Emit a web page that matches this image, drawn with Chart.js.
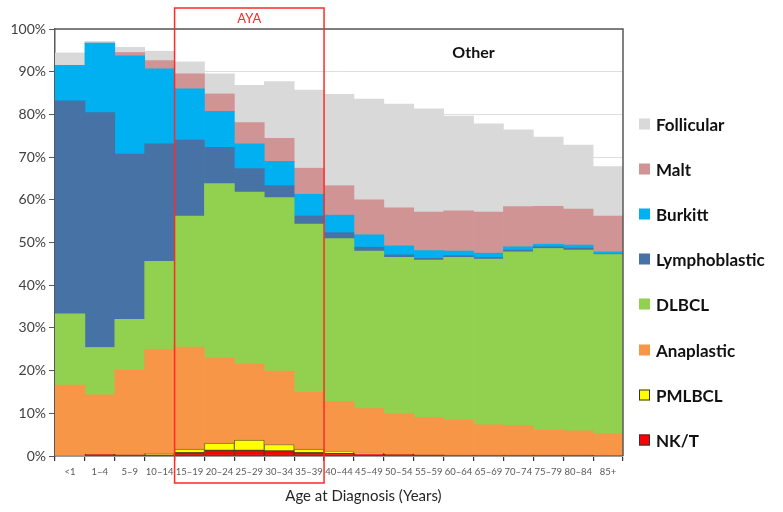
<!DOCTYPE html>
<html>
<head>
<meta charset="utf-8">
<script src="https://cdn.jsdelivr.net/npm/chart.js@4.4.1/dist/chart.umd.min.js"></script>
<style>
  html, body { margin: 0; padding: 0; background: #fff; }
  #wrap { position: relative; width: 783px; height: 512px; }
  #legend { position: absolute; left: 639px; top: 0; font-family: Lato, 'Open Sans', sans-serif; }
  .item { position: absolute; left: 0; display: flex; align-items: center; white-space: nowrap;
          font-weight: bold; font-size: 17px; color: #111; transform: translateY(-50%); }
  .swatch { width: 11px; height: 11px; margin-right: 6px; box-sizing: border-box; }
</style>
</head>
<body>
<div id="wrap">
  <canvas id="chart" width="783" height="512"></canvas>
  <div id="legend"></div>
</div>
<script>
// age bands along the x axis
const ageGroups = ['<1', '1–4', '5–9', '10–14', '15–19', '20–24', '25–29', '30–34', '35–39',
  '40–44', '45–49', '50–54', '55–59', '60–64', '65–69', '70–74', '75–79', '80–84', '85+'];

// share of cases (%) per subtype, stacked bottom to top
const nkt          = [0, 0.4, 0.3, 0.3, 0.8, 1.3, 1.3, 1.2, 0.8, 0.6, 0.5, 0.4, 0.3, 0.2, 0.2, 0.2, 0.2, 0.2, 0.1];
const pmlbcl       = [0, 0, 0, 0.3, 0.8, 1.7, 2.4, 1.5, 0.8, 0.4, 0.2, 0.1, 0, 0, 0, 0, 0, 0, 0];
const anaplastic   = [16.6, 13.9, 19.8, 24.4, 23.9, 20.0, 17.8, 17.2, 13.5, 11.8, 10.4, 9.4, 8.7, 8.2, 7.1, 6.9, 6.0, 5.7, 5.1];
const dlbcl        = [16.7, 11.1, 11.9, 20.6, 30.7, 40.8, 40.3, 40.6, 39.2, 38.1, 36.9, 36.6, 36.9, 38.1, 38.8, 40.7, 42.4, 42.3, 42.0];
const lymphoblastic= [49.9, 55.0, 38.7, 27.5, 17.8, 8.5, 5.5, 2.8, 1.9, 1.4, 0.9, 0.6, 0.4, 0.4, 0.4, 0.4, 0.4, 0.5, 0.1];
const burkitt      = [8.3, 16.3, 23.0, 17.6, 12.0, 8.4, 5.8, 5.7, 5.1, 4.1, 2.9, 2.1, 1.8, 1.1, 1.0, 0.8, 0.6, 0.7, 0.5];
const malt         = [0, 0, 0.8, 1.9, 3.5, 4.1, 5.0, 5.4, 6.1, 6.9, 8.2, 8.9, 9.0, 9.4, 9.6, 9.4, 8.9, 8.4, 8.4];
const follicular   = [2.9, 0.4, 1.2, 2.2, 2.8, 4.7, 8.7, 13.3, 18.3, 21.4, 23.6, 24.3, 24.2, 22.2, 20.7, 18.0, 16.2, 15.0, 11.6];

const yTicks = [0, 10, 20, 30, 40, 50, 60, 70, 80, 90, 100];

const FONT = "Lato, 'Open Sans', sans-serif";
const AXIS = '#595959';

function layer(label, data, color, outline) {
  return {
    label, data,
    backgroundColor: color,
    borderColor: outline || color,
    borderWidth: outline ? 1 : 0,
    borderSkipped: false,
    categoryPercentage: 1.0,
    barPercentage: 1.0
  };
}

const datasets = [
  layer('NK/T', nkt, '#ff0000', '#5a3a1a'),
  layer('PMLBCL', pmlbcl, '#ffff00', '#7a6a20'),
  layer('Anaplastic', anaplastic, '#f79646'),
  layer('DLBCL', dlbcl, '#92d050'),
  layer('Lymphoblastic', lymphoblastic, '#4672a6'),
  layer('Burkitt', burkitt, '#00b0f0'),
  layer('Malt', malt, '#d09494'),
  layer('Follicular', follicular, '#d9d9d9')
];

// AYA frame, "Other" label, plot border and the x title
const decorations = {
  id: 'decorations',
  afterDraw(chart) {
    const { ctx, chartArea: a, scales: { x } } = chart;
    ctx.save();
    ctx.strokeStyle = AXIS;
    ctx.lineWidth = 1.5;
    ctx.beginPath();
    ctx.moveTo(a.left, a.top);
    ctx.lineTo(a.right, a.top);
    ctx.lineTo(a.right, a.bottom);
    ctx.stroke();

    const l = x.getPixelForValue(3.5), r = x.getPixelForValue(8.5);
    ctx.strokeStyle = '#ff2a2a';
    ctx.lineWidth = 1.5;
    ctx.strokeRect(l, 8, r - l, 475);
    ctx.fillStyle = '#ff2a2a';
    ctx.font = '13px ' + FONT;
    ctx.textAlign = 'center';
    ctx.textBaseline = 'middle';
    ctx.fillText('AYA', (l + r) / 2, 19);

    ctx.fillStyle = '#111';
    ctx.font = 'bold 16px ' + FONT;
    ctx.fillText('Other', x.getPixelForValue(13.5), 53);

    ctx.fillStyle = '#262626';
    ctx.font = '15px ' + FONT;
    ctx.fillText('Age at Diagnosis (Years)', a.left + (a.right - a.left) * 0.543, 496);
    ctx.restore();
  }
};

new Chart(document.getElementById('chart'), {
  type: 'bar',
  data: { labels: ageGroups, datasets },
  options: {
    responsive: false,
    animation: false,
    layout: { padding: { top: 29, right: 160, left: 0, bottom: 0 } },
    plugins: { legend: { display: false }, tooltip: { enabled: false } },
    scales: {
      x: {
        stacked: true,
        grid: { display: true, drawOnChartArea: false, offset: true, tickLength: 5, tickColor: '#333', lineWidth: 1.2 },
        border: { color: AXIS, width: 1.5 },
        ticks: { autoSkip: false, maxRotation: 0, padding: 5, color: '#595959', font: { family: FONT, size: 9.5 } },
        afterFit(scale) { scale.height = 56; }
      },
      y: {
        stacked: true,
        min: 0, max: 100,
        afterBuildTicks(scale) { scale.ticks = yTicks.map(v => ({ value: v })); },
        grid: { color: '#dedede', lineWidth: 1, tickLength: 6, tickColor: AXIS },
        border: { color: AXIS, width: 1.5 },
        ticks: { padding: 3, color: '#404040', font: { family: FONT, size: 14 }, callback: v => v + '%' },
        afterFit(scale) { scale.width = 55; }
      }
    }
  },
  plugins: [decorations]
});

// legend, top entry is the top layer
const legend = document.getElementById('legend');
datasets.slice().reverse().forEach((ds, i) => {
  const row = document.createElement('div');
  row.className = 'item';
  row.style.top = (124 + i * 45.1) + 'px';
  const sw = document.createElement('span');
  sw.className = 'swatch';
  sw.style.background = ds.backgroundColor;
  if (ds.borderWidth) sw.style.border = '1px solid #333';
  row.appendChild(sw);
  row.appendChild(document.createTextNode(ds.label));
  legend.appendChild(row);
});
</script>
</body>
</html>
